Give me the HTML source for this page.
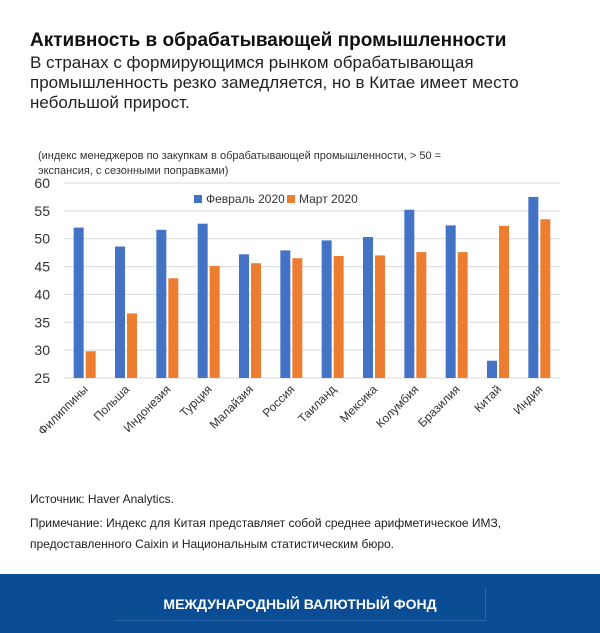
<!DOCTYPE html>
<html><head><meta charset="utf-8"><style>
body{margin:0;width:600px;height:633px;background:#fff;font-family:"Liberation Sans",sans-serif;position:relative;overflow:hidden}
.t{position:absolute;left:30px;top:30px;font-size:19px;font-weight:bold;color:#111}
.s{position:absolute;left:30px;top:53px;font-size:17px;line-height:20px;color:#222;width:560px}
.n{position:absolute;left:30px;font-size:12px;color:#222}
.foot{position:absolute;left:0;top:574px;width:600px;height:59px;background:#0a4d94}
</style></head><body>
<div class="t">Активность в обрабатывающей промышленности</div>
<div class="s">В странах с формирующимся рынком обрабатывающая промышленность резко замедляется, но в Китае имеет место небольшой прирост.</div>
<svg id="ch" width="600" height="480" style="position:absolute;left:0;top:140px"></svg>
<div class="n" style="top:492px">Источник: Haver Analytics.</div>
<div class="n" style="top:513px;line-height:21px">Примечание: Индекс для Китая представляет собой среднее арифметическое ИМЗ,<br>предоставленного Caixin и Национальным статистическим бюро.</div>
<div class="foot">
<div style="position:absolute;left:115px;top:13px;width:370px;height:33px;border-right:1px solid #2a64a8;border-bottom:1px solid #2a64a8"></div>
<div style="position:absolute;left:0;width:600px;top:22px;text-align:center;color:#fff;font-weight:bold;font-size:14px">МЕЖДУНАРОДНЫЙ ВАЛЮТНЫЙ ФОНД</div>
</div>
<script>
const categories=["Филиппины","Польша","Индонезия","Турция","Малайзия","Россия","Таиланд","Мексика","Колумбия","Бразилия","Китай","Индия"];
const feb=[52,48.6,51.6,52.7,47.2,47.9,49.7,50.3,55.2,52.4,28.1,57.5];
const mar=[29.8,36.6,42.9,45.1,45.6,46.5,46.9,47.0,47.6,47.6,52.3,53.5];
const ticks=[25,30,35,40,45,50,55,60];
const svg=document.getElementById('ch');const NS='http://www.w3.org/2000/svg';
const X0=64,X1=560,Y0=238,Y1=43,ymin=25,ymax=60;
const y=v=>Y0-(v-ymin)/(ymax-ymin)*(Y0-Y1);
const bw=(X1-X0)/categories.length;
function el(t,a,txt){const e=document.createElementNS(NS,t);for(const k in a)e.setAttribute(k,a[k]);if(txt!=null)e.textContent=txt;svg.appendChild(e);return e;}
let e=el('text',{x:38,y:19,'font-size':'11','fill':'#333'},'(индекс менеджеров по закупкам в обрабатывающей промышленности, > 50 =');


e=el('text',{x:38,y:34,'font-size':'11','fill':'#333'},'экспансия, с сезонными поправками)');


ticks.forEach(t=>{
 e=el('line',{x1:X0,x2:X1,y1:y(t),y2:y(t),stroke:'#d9d9d9','stroke-width':1});
 
 
 e=el('text',{x:50,y:y(t)+5,'font-size':'14','text-anchor':'end','fill':'#333'},t);
 
 
});
categories.forEach((c,i)=>{
 const cx=X0+bw*(i+0.5);
 e=el('rect',{x:cx-11,y:y(feb[i]),width:10,height:Y0-y(feb[i]),fill:'#4472c4'});
 
 
 e=el('rect',{x:cx+1,y:y(mar[i]),width:10,height:Y0-y(mar[i]),fill:'#ed7d31'});
 
 
 e=el('text',{x:cx+4,y:Y0+12,'font-size':'12','text-anchor':'end','fill':'#333',transform:`rotate(-45 ${cx+4} ${Y0+12})`},c);
 
 
});
e=el('rect',{x:194,y:55,width:8,height:8,fill:'#4472c4'});


e=el('text',{x:206,y:63,'font-size':'12','fill':'#333'},'Февраль 2020');


e=el('rect',{x:287,y:55,width:8,height:8,fill:'#ed7d31'});


e=el('text',{x:299,y:63,'font-size':'12','fill':'#333'},'Март 2020');


</script>
</body></html>
